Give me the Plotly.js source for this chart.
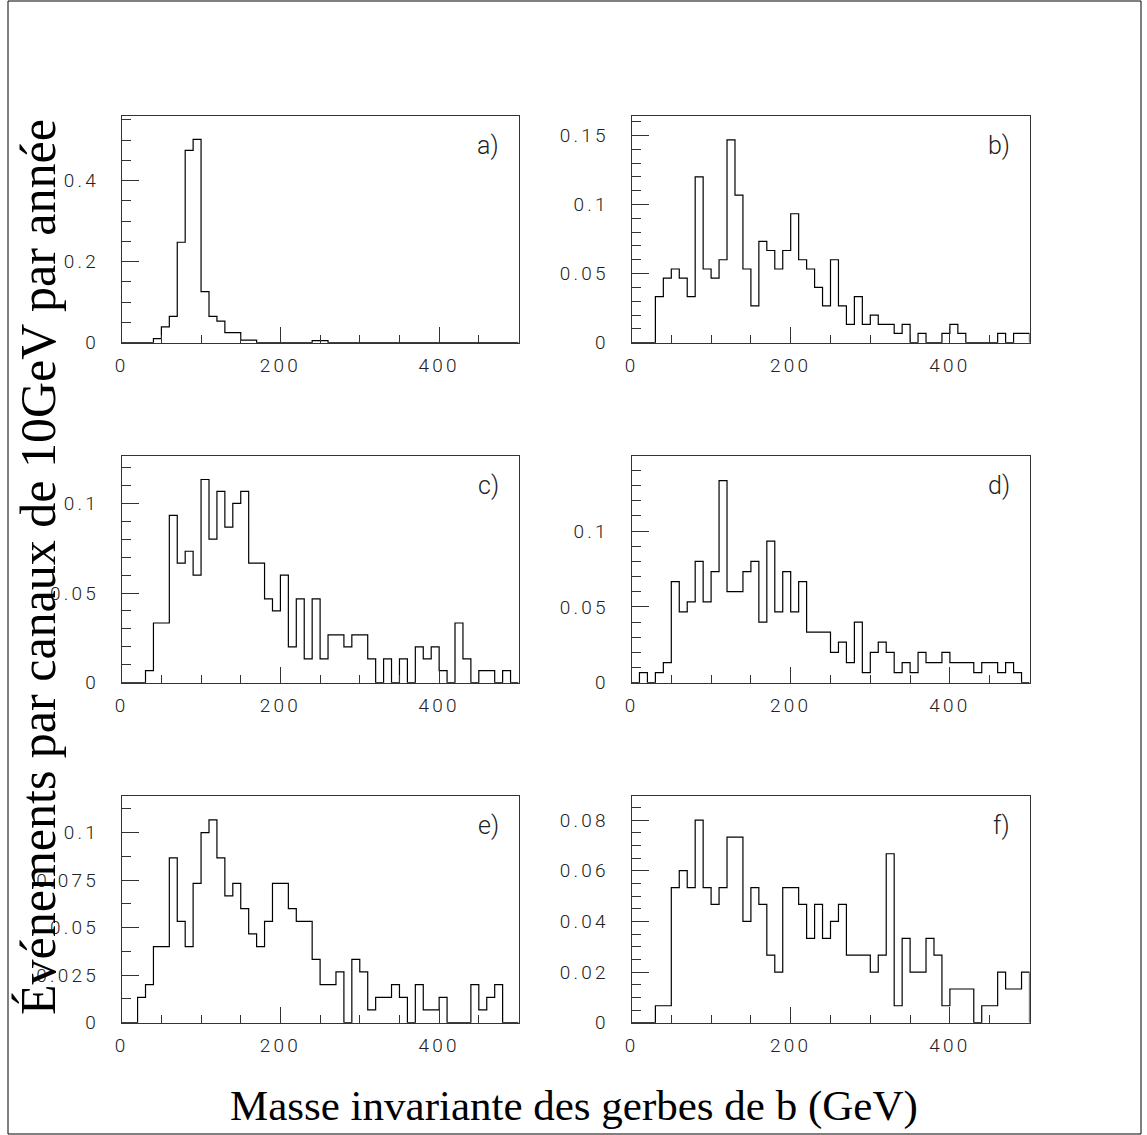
<!DOCTYPE html>
<html>
<head>
<meta charset="utf-8">
<script src="https://cdn.plot.ly/plotly-3.0.1.min.js"></script>
<style>
html,body{margin:0;padding:0;background:#fff;}
#plot{width:1147px;height:1135px;}
#plot .xaxislayer-above text, #plot .yaxislayer-above text { letter-spacing: 3.2px; }
#plot .annotation .annotation-text.plab, #plot text.plab { letter-spacing: 2px; }
</style>
</head>
<body>
<div id="plot"></div>
<script>
// Bin lower edges (GeV), 10 GeV wide bins from 0 to 500
var binEdges = [0,10,20,30,40,50,60,70,80,90,100,110,120,130,140,150,160,170,180,190,200,210,220,230,240,250,260,270,280,290,300,310,320,330,340,350,360,370,380,390,400,410,420,430,440,450,460,470,480,490];
var binWidth = 10;

var histA = [0,0,0,0,0.01,0.039,0.065,0.248,0.475,0.502,0.126,0.065,0.0535,0.025,0.025,0.0066,0.0066,0,0,0,0,0,0,0,0.005,0.005,0,0,0,0,0,0,0,0,0,0,0,0,0,0,0,0,0,0,0,0,0,0,0,0];
var histB = [0,0,0,0.0333,0.0467,0.0533,0.0467,0.0333,0.12,0.0533,0.0467,0.06,0.1467,0.1067,0.0533,0.0267,0.0733,0.0667,0.0533,0.0667,0.0933,0.06,0.0533,0.04,0.0267,0.06,0.0267,0.0133,0.0333,0.0133,0.02,0.0133,0.0133,0.0067,0.0133,0,0.0067,0,0,0.0067,0.0133,0.0067,0,0,0,0,0.0067,0,0.0067,0.0067];
var histC = [0,0,0,0.0067,0.0333,0.0333,0.0933,0.0667,0.0733,0.06,0.1133,0.08,0.1067,0.0867,0.1,0.1067,0.0667,0.0667,0.0467,0.04,0.06,0.02,0.0467,0.0133,0.0467,0.0133,0.0267,0.0267,0.02,0.0267,0.0267,0.0133,0,0.0133,0,0.0133,0,0.02,0.0133,0.02,0.0067,0,0.0333,0.0133,0,0.0067,0.0067,0,0.0067,0];
var histD = [0,0.0067,0,0.0067,0.0133,0.0667,0.0467,0.0533,0.08,0.0533,0.0733,0.1333,0.06,0.06,0.0733,0.08,0.04,0.0933,0.0467,0.0733,0.0467,0.0667,0.0333,0.0333,0.0333,0.02,0.0267,0.0133,0.04,0.0067,0.02,0.0267,0.02,0.0067,0.0133,0.0067,0.02,0.0133,0.0133,0.02,0.0133,0.0133,0.0133,0.0067,0.0133,0.0133,0.0067,0.0133,0.0067,0];
var histE = [0,0,0.0133,0.02,0.04,0.04,0.0867,0.0533,0.04,0.0733,0.1,0.1067,0.0867,0.0667,0.0733,0.06,0.0467,0.04,0.0533,0.0733,0.0733,0.06,0.0533,0.0533,0.0333,0.02,0.02,0.0267,0,0.0333,0.0267,0.0067,0.0133,0.0133,0.02,0.0133,0,0.02,0.0067,0.0067,0.0133,0,0,0,0.02,0.0067,0.0133,0.02,0,0];
var histF = [0,0,0,0.0067,0.0067,0.0533,0.06,0.0533,0.08,0.0533,0.0467,0.0533,0.0733,0.0733,0.04,0.0533,0.0467,0.0267,0.02,0.0533,0.0533,0.0467,0.0333,0.0467,0.0333,0.04,0.0467,0.0267,0.0267,0.0267,0.02,0.0267,0.0667,0.0067,0.0333,0.02,0.02,0.0333,0.0267,0.0067,0.0133,0.0133,0.0133,0,0.0067,0.0067,0.02,0.0133,0.0133,0.02];

var panelLabels = ["a)","b)","c)","d)","e)","f)"];
var xTitle = "Masse invariante des gerbes de b (GeV)";
var yTitle = "Événements par canaux de 10GeV par année";

var panels = [
  {h: histA, yr: [0,0.5597], dt: 0.2,  mdt: 0.05},
  {h: histB, yr: [0,0.164],  dt: 0.05, mdt: 0.01},
  {h: histC, yr: [0,0.1264], dt: 0.05, mdt: 0.01},
  {h: histD, yr: [0,0.1495], dt: 0.05, mdt: 0.01},
  {h: histE, yr: [0,0.1193], dt: 0.025, mdt: 0.0125},
  {h: histF, yr: [0,0.0895], dt: 0.02, mdt: 0.005}
];

var W = 1147, H = 1135;
var colPx = [[121.7,518.5],[631.5,1029.5]];
var rowPx = [[116,342.7],[456,682.7],[796,1022.7]];

var tickFont = {family: "Roboto, 'Open Sans', sans-serif", size: 19, color: "#222", weight: 300};

function stepLine(h){
  var xs = [binEdges[0]], ys = [0];
  for (var i = 0; i < h.length; i++){
    xs.push(binEdges[i]); ys.push(h[i]);
    xs.push(binEdges[i] + binWidth); ys.push(h[i]);
  }
  xs.push(binEdges[h.length-1] + binWidth); ys.push(0);
  return {x: xs, y: ys};
}

var data = [];
var layout = {
  width: W, height: H,
  margin: {l:0, r:0, t:0, b:0},
  paper_bgcolor: "#fff", plot_bgcolor: "#fff",
  showlegend: false,
  annotations: [],
  shapes: [{type:"rect", xref:"paper", yref:"paper", x0: 8/W, x1: 1141/W, y0: 1-1134/H, y1: 1-1/H, line:{color:"#000", width:1}}]
};

panels.forEach(function(p, k){
  var col = k % 2, row = Math.floor(k/2);
  var n = k === 0 ? "" : String(k+1);
  var s = stepLine(p.h);
  data.push({type:"scatter", mode:"lines", x: s.x, y: s.y, xaxis: "x"+n, yaxis: "y"+n,
    line:{color:"#000", width:1.2}, hoverinfo:"skip"});
  layout["xaxis"+n] = {
    domain: [colPx[col][0]/W, colPx[col][1]/W], anchor: "y"+n,
    range: [0,500], dtick: 200, tick0: 0, ticks: "inside", ticklen: 16, tickcolor:"#333", tickwidth:1,
    minor: {dtick: 50, ticks: "inside", ticklen: 8, tickcolor:"#333", tickwidth:1},
    showline: true, mirror: true, linecolor: "#333", linewidth: 1,
    showgrid: false, zeroline: false, tickfont: tickFont, ticklabelstandoff: 5, fixedrange: true
  };
  layout["yaxis"+n] = {
    domain: [1-rowPx[row][1]/H, 1-rowPx[row][0]/H], anchor: "x"+n,
    range: p.yr, dtick: p.dt, tick0: 0, ticks: "inside", ticklen: 17, tickcolor:"#333", tickwidth:1,
    minor: {dtick: p.mdt, ticks: "inside", ticklen: 9, tickcolor:"#333", tickwidth:1},
    showline: true, mirror: true, linecolor: "#333", linewidth: 1,
    showgrid: false, zeroline: false, tickfont: tickFont, ticklabelstandoff: 18, fixedrange: true
  };
  layout.annotations.push({
    text: panelLabels[k], xref: "x"+n+" domain", yref: "y"+n+" domain",
    x: 0.955, y: 0.868, xanchor: "right", yanchor: "middle", showarrow: false,
    font: {family: "Roboto, 'Open Sans', sans-serif", size: 25, color:"#222", weight: 300}
  });
});

layout.annotations.push({
  text: xTitle, xref: "paper", yref: "paper", x: 574/W, y: 1-1106/H,
  xanchor: "center", yanchor: "middle", showarrow: false,
  font: {family: "'Liberation Serif', 'Times New Roman', serif", size: 43, color: "#000"}
});
layout.annotations.push({
  text: yTitle, xref: "paper", yref: "paper", x: 38/W, y: 1-567/H,
  xanchor: "center", yanchor: "middle", showarrow: false, textangle: -90,
  font: {family: "'Liberation Serif', 'Times New Roman', serif", size: 50, color: "#000"}
});

Plotly.newPlot("plot", data, layout, {staticPlot: true, displayModeBar: false});
</script>
</body>
</html>
